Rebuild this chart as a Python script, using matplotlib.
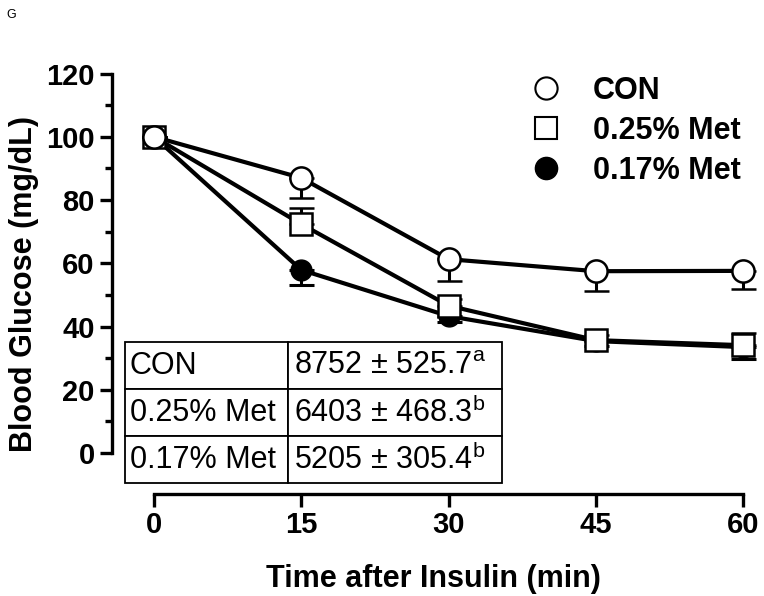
import matplotlib.pyplot as plt
from matplotlib.lines import Line2D

plt.rcParams['font.family'] = ['Liberation Sans', 'DejaVu Sans']

time_min = [0, 15, 30, 45, 60]
con = [100, 87.0, 61.3, 57.5, 57.6]
con_err = [0, 6.4, 7.0, 6.3, 5.6]          # drawn downward
met25 = [100, 72.4, 46.6, 35.7, 34.1]
met25_err = [0, 5.0, 2.0, 1.5, 3.8]        # drawn upward
met17 = [100, 57.9, 43.3, 35.4, 33.5]
met17_err = [0, 4.8, 2.0, 1.5, 3.8]        # drawn downward

groups = ['CON', '0.25% Met', '0.17% Met']
auc = ['8752 ± 525.7', '6403 ± 468.3', '5205 ± 305.4']
auc_sig = ['a', 'b', 'b']

fig = plt.figure(figsize=(7.64, 5.96), dpi=100)
ax = fig.add_axes([0.1466, 0.1711, 0.8416, 0.7055])

lw = 3.0
ebar = dict(color='black', lw=lw, capsize=9, elinewidth=2.2, capthick=2.2, clip_on=False)
ax.errorbar(time_min, met17, yerr=[met17_err, [0] * 5], marker='o', ms=15,
            mfc='black', mec='black', zorder=3, **ebar)
ax.errorbar(time_min, met25, yerr=[[0] * 5, met25_err], marker='s', ms=16.5,
            mfc='white', mec='black', mew=1.8, zorder=4, **ebar)
ax.errorbar(time_min, con, yerr=[con_err, [0] * 5], marker='o', ms=16,
            mfc='white', mec='black', mew=1.8, zorder=5, **ebar)

ax.set_xlim(-4.28, 61.22)
ax.set_ylim(-12.96, 120)
for s in ['top', 'right']:
    ax.spines[s].set_visible(False)
ax.spines['left'].set_bounds(0, 120)
ax.spines['bottom'].set_bounds(0, 60)
ax.spines['left'].set_linewidth(2.4)
ax.spines['bottom'].set_linewidth(2.4)

ax.set_xticks(time_min)
ax.set_yticks(range(0, 121, 20))
ax.set_yticks(range(10, 120, 20), minor=True)
ax.tick_params(axis='both', which='major', length=9, width=2.4, labelsize=21, direction='out')
ax.tick_params(axis='y', which='minor', length=5, width=2.4)
for lab in ax.get_xticklabels() + ax.get_yticklabels():
    lab.set_fontweight('bold')

ax.set_xlabel('Time after Insulin (min)', fontsize=22, fontweight='bold', labelpad=18)
ax.set_ylabel('Blood Glucose (mg/dL)', fontsize=22, fontweight='bold', labelpad=5)

handles = [
    Line2D([], [], ls='none', marker='o', ms=16, mfc='white', mec='black', mew=1.5),
    Line2D([], [], ls='none', marker='s', ms=16, mfc='white', mec='black', mew=1.5),
    Line2D([], [], ls='none', marker='o', ms=16, mfc='black', mec='black'),
]
ax.legend(handles, groups, loc='upper left', bbox_to_anchor=(531 / 764, 1 - 76 / 596),
          bbox_transform=fig.transFigure, frameon=False, borderpad=0, borderaxespad=0,
          prop={'weight': 'bold', 'size': 22}, handlelength=1.0, handletextpad=1.03,
          labelspacing=0.32)

cells = [[g, a + '$^{\\mathregular{' + s + '}}$'] for g, a, s in zip(groups, auc, auc_sig)]
tbl = ax.table(cellText=cells, colWidths=[0.432, 0.568], cellLoc='left',
               bbox=[0.0202, 0.0262, 0.5863, 0.3353])
tbl.auto_set_font_size(False)
tbl.set_fontsize(22)
for cell in tbl.get_celld().values():
    cell.set_linewidth(1.3)
    cell.PAD = 0.03
tbl.set_zorder(6)

fig.text(0.008, 0.985, 'G', fontsize=9, va='top', ha='left')

fig.savefig('out.png', dpi=100)
